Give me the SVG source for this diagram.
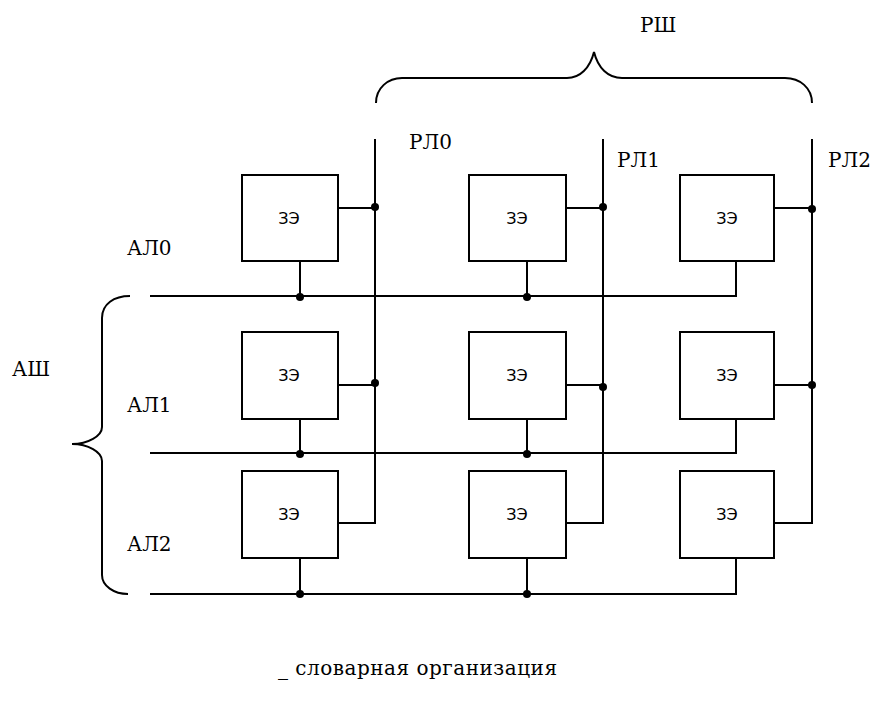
<svg xmlns="http://www.w3.org/2000/svg" width="875" height="702" viewBox="0 0 875 702">
<style>
.ln{fill:none;stroke:#000;stroke-width:2;stroke-linejoin:miter}
.bx{fill:#fff;stroke:#000;stroke-width:2}
.dot{fill:#000}
.lbl{font-family:"DejaVu Serif","Liberation Serif",serif;font-size:20px;fill:#000}
.ze{font-family:"DejaVu Sans","Liberation Sans",sans-serif;font-size:16px;fill:#000;text-anchor:middle}
</style>
<rect width="875" height="702" fill="#fff"/>
<g id="connectors">
<path class="ln" d="M150,296 H736 V261"/>
<path class="ln" d="M150,453 H736 V419"/>
<path class="ln" d="M150,594 H736 V558"/>
<path class="ln" d="M300,261 V296 M527,261 V296"/>
<path class="ln" d="M300,419 V453 M527,419 V453"/>
<path class="ln" d="M300,558 V594 M527,558 V594"/>
<path class="ln" d="M338,523 H375 V139 M338,208 H375 M338,385 H375"/>
<path class="ln" d="M566,523 H603 V139 M566,208 H603 M566,385 H603"/>
<path class="ln" d="M774,523 H812 V139 M774,208 H812 M774,385 H812"/>
<circle class="dot" cx="300" cy="297" r="4"/>
<circle class="dot" cx="527" cy="297" r="4"/>
<circle class="dot" cx="300" cy="454" r="4"/>
<circle class="dot" cx="527" cy="454" r="4"/>
<circle class="dot" cx="300" cy="594" r="4"/>
<circle class="dot" cx="527" cy="594" r="4"/>
<circle class="dot" cx="375" cy="207" r="4"/>
<circle class="dot" cx="603" cy="207" r="4"/>
<circle class="dot" cx="812" cy="209" r="4"/>
<circle class="dot" cx="375" cy="383" r="4"/>
<circle class="dot" cx="603" cy="387" r="4"/>
<circle class="dot" cx="812" cy="385" r="4"/>
</g>
<g id="brace-rsh">
<path class="ln" d="M376,103 C376,88 388,78 402,78 H567 C580,78 590,68 594,52 C598,68 608,78 622,78 H785 C800,78 812,88 812,103"/>
<text class="lbl" x="640" y="32">РШ</text>
</g>
<g id="brace-ash">
<path class="ln" d="M130,296 C114,296 102,304 102,318 V427 C102,436 88,444 72,444 C88,444 102,452 102,461 V575 C102,586 114,594 128,594"/>
<text class="lbl" x="12" y="376">АШ</text>
</g>
<g id="labels">
<text class="lbl" x="409" y="149">РЛ0</text>
<text class="lbl" x="617" y="167">РЛ1</text>
<text class="lbl" x="828" y="167">РЛ2</text>
<text class="lbl" x="127" y="255">АЛ0</text>
<text class="lbl" x="127" y="412">АЛ1</text>
<text class="lbl" x="127" y="551">АЛ2</text>
</g>
<g id="cell-0-0"><rect class="bx" x="242" y="175" width="96" height="86"/><text class="ze" x="289" y="224">ЗЭ</text></g>
<g id="cell-0-1"><rect class="bx" x="469" y="175" width="97" height="86"/><text class="ze" x="517" y="224">ЗЭ</text></g>
<g id="cell-0-2"><rect class="bx" x="680" y="175" width="94" height="86"/><text class="ze" x="727" y="224">ЗЭ</text></g>
<g id="cell-1-0"><rect class="bx" x="242" y="332" width="96" height="87"/><text class="ze" x="289" y="381">ЗЭ</text></g>
<g id="cell-1-1"><rect class="bx" x="469" y="332" width="97" height="87"/><text class="ze" x="517" y="381">ЗЭ</text></g>
<g id="cell-1-2"><rect class="bx" x="680" y="332" width="94" height="87"/><text class="ze" x="727" y="381">ЗЭ</text></g>
<g id="cell-2-0"><rect class="bx" x="242" y="471" width="96" height="87"/><text class="ze" x="289" y="520">ЗЭ</text></g>
<g id="cell-2-1"><rect class="bx" x="469" y="471" width="97" height="87"/><text class="ze" x="517" y="520">ЗЭ</text></g>
<g id="cell-2-2"><rect class="bx" x="680" y="471" width="94" height="87"/><text class="ze" x="727" y="520">ЗЭ</text></g>
<text class="lbl" x="278" y="675" textLength="279" lengthAdjust="spacing">_ словарная организация</text>
</svg>
